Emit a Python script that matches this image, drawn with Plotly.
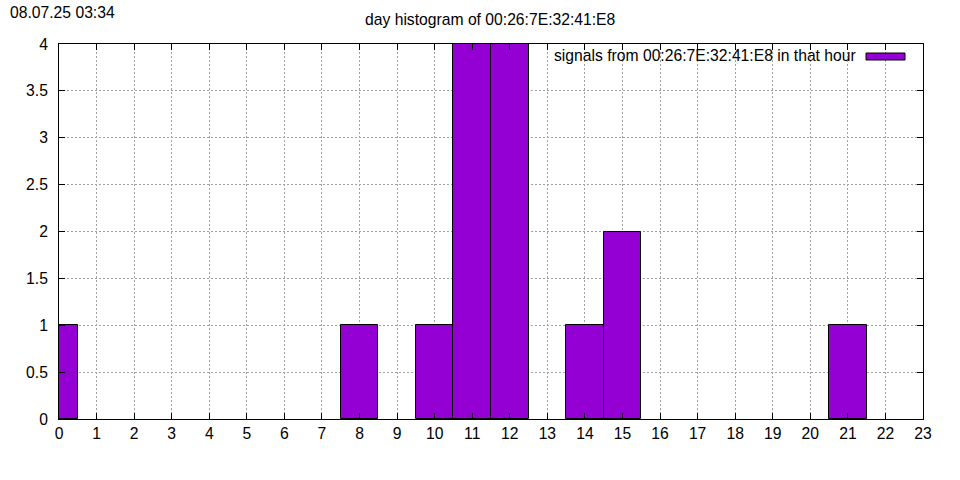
import plotly.graph_objects as go

hours = [0, 8, 10, 11, 12, 14, 15, 21]
counts = [1, 1, 1, 4, 4, 1, 2, 1]
x_ticks = list(range(0, 24))
y_ticks = [0, 0.5, 1, 1.5, 2, 2.5, 3, 3.5, 4]
y_tick_labels = ["0", "0.5", "1", "1.5", "2", "2.5", "3", "3.5", "4"]
title_text = "day histogram of 00:26:7E:32:41:E8"
stamp_text = "08.07.25 03:34"
legend_text = "signals from 00:26:7E:32:41:E8 in that hour"

BAR = "#9400D3"
FONT = "Liberation Sans"
FS = 15.7

W, H = 960, 480
L, R, T, B = 59, 37, 44, 61
pw, ph = W - L - R, H - T - B

def px(x):
    return (x - L) / pw

def py(y):
    return (H - B - y) / ph

fig = go.Figure()
fig.add_trace(go.Bar(
    x=hours, y=counts, width=1,
    marker=dict(color=BAR, line=dict(color="black", width=1)),
    showlegend=False, hoverinfo="skip",
))

axis_common = dict(
    showline=True, linecolor="black", linewidth=1, mirror="ticks",
    ticks="inside", ticklen=6, tickcolor="black", tickwidth=1,
    showgrid=True, gridcolor="#a0a0a0", gridwidth=1, griddash="2px,2px",
    zeroline=False, tickfont=dict(family=FONT, size=FS, color="black"),
)

fig.update_xaxes(range=[0, 23], tickvals=x_ticks, ticktext=[str(v) for v in x_ticks],
                 **axis_common)
fig.update_yaxes(range=[0, 4], tickvals=y_ticks, ticktext=y_tick_labels,
                 ticklabelstandoff=7, **axis_common)

fig.add_annotation(text=title_text, x=px(490), y=py(20), xref="paper", yref="paper",
                   showarrow=False, xanchor="center", yanchor="middle",
                   font=dict(family=FONT, size=FS, color="black"))
fig.add_annotation(text=stamp_text, x=px(8), y=py(12), xref="paper", yref="paper",
                   showarrow=False, xanchor="left", yanchor="middle",
                   font=dict(family=FONT, size=FS, color="black"))
fig.add_annotation(text=legend_text, x=px(858), y=py(55), xref="paper", yref="paper",
                   showarrow=False, xanchor="right", yanchor="middle",
                   font=dict(family=FONT, size=FS, color="black"))
fig.add_shape(type="rect", xref="paper", yref="paper",
              x0=px(866), x1=px(905), y0=py(60), y1=py(53),
              fillcolor=BAR, line=dict(color="black", width=1))

fig.update_layout(
    width=W, height=H,
    margin=dict(l=L, r=R, t=T, b=B),
    paper_bgcolor="white", plot_bgcolor="white",
    bargap=0, showlegend=False, hovermode=False,
    font=dict(family=FONT, size=FS, color="black"),
)

fig.write_html("out.html", config={"displayModeBar": False},
               post_script="document.body.style.margin='0';")
